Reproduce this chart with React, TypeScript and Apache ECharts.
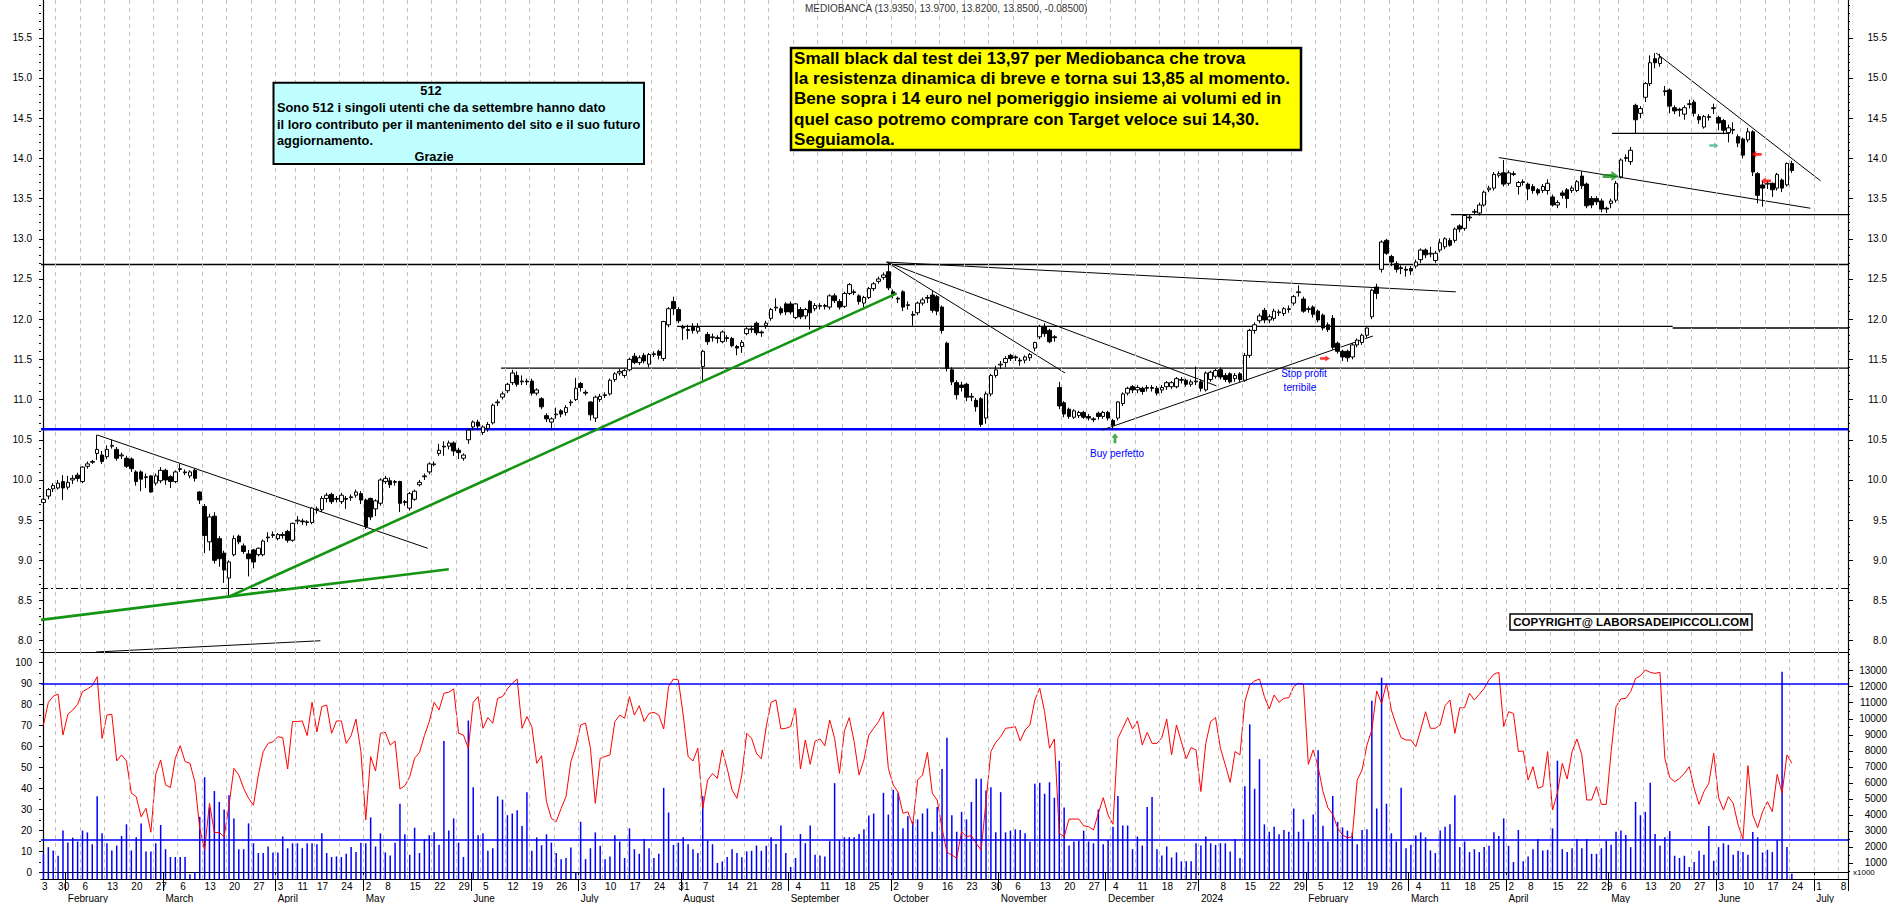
import React, { useEffect, useRef } from 'react';
import * as echarts from 'echarts';

// ---------------- calendar ----------------
const START_DAY = '2023-01-25';
const END_DAY = '2024-07-09';
const HOLIDAYS = ['2023-04-07', '2023-04-10', '2023-05-01', '2023-08-15', '2023-12-25', '2023-12-26', '2024-01-01', '2024-03-29', '2024-04-01', '2024-05-01'];
const MONTH_NAMES = ['January', 'February', 'March', 'April', 'May', 'June', 'July', 'August', 'September', 'October', 'November', 'December'];

// ---------------- price: [open, close, low, high] ----------------
const CANDLES: number[][] = [
  [9.72,9.76,9.66,9.78],[9.80,9.88,9.76,9.90],[9.89,9.93,9.85,9.96],[9.90,9.96,9.88,10.00],[9.98,9.90,9.75,10.06],
  [9.91,9.97,9.88,10.05],[10.00,10.02,9.95,10.06],[10.06,10.02,9.98,10.09],[9.98,10.16,9.96,10.17],[10.17,10.20,10.14,10.23],
  [10.22,10.23,10.20,10.25],[10.33,10.38,10.25,10.56],[10.31,10.23,10.20,10.36],[10.29,10.38,10.26,10.43],[10.42,10.43,10.39,10.50],
  [10.38,10.27,10.24,10.41],[10.30,10.31,10.26,10.34],[10.27,10.17,10.15,10.30],[10.26,10.14,10.10,10.28],[10.10,9.98,9.93,10.12],
  [10.10,10.01,9.86,10.12],[10.03,10.04,9.90,10.08],[10.05,9.85,9.84,10.06],[9.96,10.05,9.93,10.08],[9.99,10.12,9.96,10.16],
  [10.12,10.00,9.94,10.14],[10.04,9.98,9.90,10.06],[9.98,10.10,9.96,10.12],[10.13,10.14,10.10,10.20],[10.10,10.09,10.06,10.13],
  [10.05,10.10,10.02,10.12],[10.12,10.02,9.98,10.14],[9.85,9.75,9.70,9.86],[9.67,9.31,9.09,9.70],[9.23,9.54,9.12,9.58],
  [9.55,9.00,8.96,9.60],[9.27,9.02,8.92,9.30],[9.09,8.88,8.72,9.12],[8.78,8.98,8.55,9.00],[9.07,9.27,9.05,9.31],
  [9.30,9.23,9.20,9.32],[9.18,9.11,9.08,9.21],[9.08,9.02,8.80,9.13],[9.13,8.98,8.90,9.14],[9.07,9.15,9.05,9.16],
  [9.07,9.24,9.05,9.26],[9.28,9.29,9.23,9.35],[9.31,9.32,9.28,9.36],[9.27,9.32,9.25,9.34],[9.32,9.31,9.27,9.35],
  [9.36,9.25,9.22,9.38],[9.25,9.46,9.23,9.47],[9.49,9.50,9.45,9.55],[9.49,9.48,9.44,9.52],[9.47,9.48,9.43,9.50],
  [9.47,9.65,9.45,9.66],[9.64,9.63,9.58,9.67],[9.63,9.77,9.60,9.80],[9.77,9.81,9.72,9.84],[9.82,9.73,9.70,9.84],
  [9.76,9.77,9.72,9.80],[9.73,9.81,9.70,9.84],[9.77,9.76,9.64,9.80],[9.78,9.79,9.74,9.82],[9.81,9.85,9.78,9.88],
  [9.83,9.75,9.70,9.86],[9.75,9.42,9.39,9.77],[9.77,9.54,9.50,9.78],[9.64,9.74,9.55,9.76],[9.71,10.00,9.68,10.02],
  [9.98,10.02,9.95,10.05],[9.99,9.94,9.90,10.03],[9.97,9.98,9.93,10.00],[9.98,9.71,9.60,9.99],[9.73,9.72,9.68,9.75],
  [9.65,9.83,9.62,9.85],[9.76,9.86,9.74,9.88],[9.94,9.97,9.92,10.00],[10.04,10.05,10.00,10.08],[10.10,10.20,10.07,10.22],
  [10.19,10.20,10.17,10.23],[10.33,10.37,10.30,10.45],[10.41,10.42,10.30,10.48],[10.42,10.46,10.38,10.49],[10.46,10.36,10.30,10.48],
  [10.37,10.34,10.26,10.40],[10.27,10.31,10.24,10.33],[10.50,10.62,10.45,10.64],[10.66,10.72,10.62,10.74],[10.72,10.67,10.63,10.75],
  [10.59,10.66,10.56,10.68],[10.64,10.69,10.60,10.72],[10.71,10.93,10.69,10.95],[10.96,10.97,10.92,11.00],[11.03,11.07,11.00,11.10],
  [11.11,11.19,11.08,11.21],[11.21,11.33,11.18,11.37],[11.30,11.19,11.16,11.35],[11.22,11.23,11.18,11.30],[11.23,11.22,11.18,11.26],
  [11.23,11.08,11.05,11.26],[11.08,11.12,11.05,11.14],[11.01,10.91,10.88,11.03],[10.80,10.76,10.72,10.83],[10.72,10.76,10.62,10.78],
  [10.81,10.82,10.76,10.90],[10.86,10.82,10.78,10.88],[10.84,10.90,10.80,10.93],[10.96,10.97,10.92,11.00],[11.00,11.14,10.98,11.27],
  [11.20,11.15,11.10,11.22],[11.09,11.08,11.05,11.12],[10.97,10.81,10.74,10.98],[10.77,11.03,10.72,11.05],[11.00,11.04,10.97,11.07],
  [11.05,11.06,11.02,11.09],[11.07,11.24,11.05,11.26],[11.25,11.32,11.22,11.34],[11.33,11.35,11.30,11.38],[11.30,11.36,11.27,11.38],
  [11.37,11.50,11.35,11.52],[11.54,11.46,11.44,11.58],[11.46,11.52,11.43,11.55],[11.55,11.48,11.45,11.58],[11.44,11.56,11.40,11.58],
  [11.56,11.57,11.53,11.60],[11.60,11.55,11.50,11.62],[11.51,11.97,11.48,11.98],[11.93,12.13,11.90,12.15],[12.22,12.13,12.05,12.28],
  [12.12,11.98,11.95,12.15],[11.90,11.89,11.74,11.93],[11.87,11.86,11.75,11.93],[11.90,11.86,11.82,11.95],[11.85,11.90,11.82,11.95],
  [11.41,11.60,11.24,11.62],[11.81,11.72,11.68,11.84],[11.77,11.78,11.72,11.82],[11.77,11.76,11.70,11.80],[11.72,11.84,11.70,11.86],
  [11.77,11.76,11.72,11.80],[11.76,11.67,11.65,11.78],[11.66,11.64,11.55,11.68],[11.66,11.71,11.58,11.74],[11.82,11.88,11.80,11.90],
  [11.87,11.88,11.83,11.92],[11.95,11.83,11.80,11.97],[11.84,11.83,11.78,11.86],[11.92,11.95,11.88,11.98],[12.01,12.12,11.98,12.14],
  [12.14,12.15,12.10,12.26],[12.13,12.08,12.05,12.16],[12.19,12.09,12.05,12.21],[12.19,12.09,12.06,12.22],[12.02,12.19,12.00,12.20],
  [12.12,12.03,12.00,12.15],[12.04,12.12,12.00,12.14],[12.22,12.08,11.87,12.24],[12.13,12.17,12.10,12.20],[12.16,12.17,12.12,12.20],
  [12.17,12.16,12.12,12.19],[12.15,12.29,12.12,12.31],[12.29,12.23,12.20,12.32],[12.22,12.15,12.12,12.25],[12.16,12.32,12.14,12.34],
  [12.32,12.43,12.30,12.45],[12.34,12.33,12.30,12.37],[12.29,12.22,12.18,12.31],[12.20,12.27,12.15,12.29],[12.27,12.38,12.25,12.40],
  [12.38,12.44,12.35,12.46],[12.47,12.50,12.44,12.53],[12.52,12.55,12.49,12.58],[12.59,12.39,12.36,12.71],[12.34,12.31,12.26,12.37],
  [12.26,12.25,12.20,12.28],[12.34,12.15,12.10,12.36],[12.17,12.18,12.12,12.22],[12.06,12.05,11.92,12.10],[12.08,12.20,12.05,12.22],
  [12.20,12.24,12.17,12.27],[12.26,12.27,12.20,12.30],[12.30,12.11,12.08,12.35],[12.28,12.10,12.05,12.30],[12.15,11.86,11.82,12.17],
  [11.70,11.39,11.35,11.72],[11.37,11.22,11.18,11.40],[11.21,11.06,11.00,11.24],[11.18,11.15,11.10,11.22],[11.19,11.03,10.98,11.21],
  [11.03,11.04,10.98,11.08],[10.99,10.91,10.85,11.02],[11.01,10.69,10.66,11.03],[10.77,11.07,10.70,11.10],[11.07,11.30,11.04,11.32],
  [11.30,11.37,11.27,11.42],[11.43,11.44,11.38,11.48],[11.46,11.51,11.40,11.54],[11.55,11.51,11.48,11.57],[11.53,11.52,11.48,11.55],
  [11.49,11.48,11.42,11.52],[11.49,11.53,11.45,11.55],[11.52,11.56,11.48,11.58],[11.64,11.71,11.60,11.72],[11.78,11.91,11.75,11.93],
  [11.91,11.82,11.78,11.95],[11.86,11.72,11.70,11.88],[11.78,11.77,11.72,11.80],[11.15,10.92,10.88,11.22],[10.96,10.82,10.78,10.98],
  [10.88,10.79,10.76,10.90],[10.78,10.86,10.76,10.88],[10.80,10.84,10.77,10.86],[10.84,10.78,10.76,10.86],[10.79,10.77,10.74,10.82],
  [10.76,10.75,10.72,10.78],[10.83,10.79,10.75,10.85],[10.79,10.84,10.76,10.86],[10.84,10.77,10.74,10.86],[10.74,10.68,10.62,10.76],
  [10.77,10.97,10.74,10.98],[10.95,11.07,10.92,11.09],[11.08,11.14,11.05,11.16],[11.16,11.12,11.08,11.18],[11.12,11.15,11.08,11.18],
  [11.14,11.10,11.06,11.16],[11.14,11.15,11.10,11.18],[11.15,11.14,11.10,11.18],[11.14,11.08,11.05,11.17],[11.12,11.15,11.08,11.18],
  [11.16,11.21,11.12,11.23],[11.16,11.21,11.13,11.23],[11.16,11.26,11.14,11.28],[11.24,11.25,11.20,11.28],[11.24,11.19,11.16,11.26],
  [11.19,11.22,11.16,11.25],[11.22,11.23,11.18,11.41],[11.22,11.14,11.10,11.25],[11.12,11.33,11.10,11.35],[11.25,11.34,11.22,11.36],
  [11.29,11.36,11.26,11.38],[11.37,11.28,11.25,11.40],[11.30,11.25,11.22,11.33],[11.32,11.22,11.20,11.34],[11.26,11.30,11.22,11.33],
  [11.32,11.25,11.22,11.34],[11.24,11.55,11.22,11.58],[11.55,11.86,11.52,11.88],[11.86,11.93,11.82,11.96],[11.98,12.04,11.95,12.07],
  [12.11,11.99,11.95,12.14],[11.99,12.03,11.95,12.06],[12.01,12.10,11.98,12.13],[12.08,12.09,12.04,12.12],[12.07,12.13,12.04,12.15],
  [12.12,12.13,12.08,12.17],[12.20,12.28,12.17,12.30],[12.33,12.34,12.28,12.42],[12.25,12.10,12.08,12.28],[12.12,12.13,12.08,12.16],
  [12.15,12.06,12.02,12.17],[12.10,11.99,11.96,12.12],[12.05,11.89,11.86,12.07],[11.93,11.87,11.84,11.96],[12.01,11.65,11.62,12.05],
  [11.70,11.60,11.57,11.72],[11.60,11.53,11.48,11.62],[11.60,11.52,11.47,11.62],[11.53,11.68,11.50,11.70],[11.68,11.74,11.65,11.76],
  [11.71,11.80,11.68,11.82],[11.80,11.89,11.77,11.90],[12.03,12.36,12.00,12.38],[12.40,12.32,12.25,12.44],[12.62,12.96,12.58,12.98],
  [12.98,12.82,12.80,13.00],[12.78,12.71,12.66,12.80],[12.69,12.62,12.58,12.72],[12.64,12.63,12.56,12.67],[12.62,12.61,12.53,12.66],
  [12.63,12.60,12.55,12.66],[12.66,12.71,12.63,12.74],[12.74,12.86,12.70,12.88],[12.86,12.80,12.76,12.88],[12.81,12.82,12.77,12.90],
  [12.73,12.82,12.70,12.85],[12.86,12.95,12.83,13.00],[12.90,13.00,12.87,13.02],[12.98,12.92,12.90,13.01],[12.98,13.12,12.95,13.14],
  [13.16,13.12,13.08,13.18],[13.13,13.29,13.10,13.30],[13.27,13.26,13.22,13.30],[13.33,13.34,13.30,13.37],[13.32,13.42,13.29,13.45],
  [13.42,13.58,13.40,13.60],[13.61,13.63,13.58,13.66],[13.63,13.80,13.60,13.83],[13.79,13.81,13.76,13.84],[13.82,13.68,13.65,13.98],
  [13.69,13.82,13.66,13.85],[13.80,13.81,13.78,13.84],[13.65,13.70,13.55,13.72],[13.70,13.71,13.66,13.74],[13.68,13.62,13.48,13.70],
  [13.65,13.60,13.56,13.68],[13.61,13.57,13.54,13.63],[13.60,13.65,13.57,13.68],[13.60,13.69,13.55,13.74],[13.52,13.42,13.40,13.55],
  [13.42,13.45,13.38,13.48],[13.57,13.54,13.50,13.60],[13.61,13.50,13.38,13.63],[13.60,13.63,13.57,13.66],[13.60,13.71,13.58,13.73],
  [13.78,13.66,13.62,13.84],[13.68,13.41,13.38,13.70],[13.50,13.42,13.38,13.53],[13.50,13.46,13.42,13.53],[13.47,13.37,13.33,13.50],
  [13.38,13.37,13.32,13.40],[13.44,13.47,13.38,13.50],[13.48,13.69,13.45,13.72],[13.77,13.98,13.75,14.00],[14.00,14.01,13.96,14.05],
  [13.96,14.10,13.92,14.14],[14.66,14.48,14.31,14.68],[14.56,14.62,14.50,14.65],[14.76,14.93,14.70,14.95],[14.93,15.19,14.90,15.28],
  [15.24,15.19,15.12,15.31],[15.18,15.25,15.14,15.30],[14.84,14.83,14.78,14.90],[14.85,14.65,14.56,14.87],[14.63,14.59,14.55,14.66],
  [14.61,14.60,14.52,14.63],[14.55,14.63,14.48,14.66],[14.67,14.68,14.62,14.73],[14.70,14.56,14.52,14.73],[14.52,14.48,14.43,14.55],
  [14.39,14.52,14.37,14.54],[14.51,14.52,14.47,14.55],[14.62,14.63,14.55,14.68],[14.51,14.44,14.35,14.53],[14.47,14.35,14.30,14.49],
  [14.32,14.38,14.20,14.42],[14.35,14.36,14.30,14.45],[14.27,14.19,14.14,14.30],[14.24,14.04,14.00,14.26],[14.23,14.33,14.20,14.38],
  [14.33,13.83,13.78,14.35],[13.81,13.54,13.44,13.83],[13.67,13.63,13.40,13.72],[13.68,13.69,13.62,13.72],[13.69,13.61,13.52,13.70],
  [13.63,13.80,13.60,13.82],[13.73,13.63,13.58,13.75],[13.67,13.935,13.65,13.95],[13.935,13.85,13.82,13.97]
];

// ---------------- lower pane ----------------
const OSCILLATOR: number[] = [
  70.3,81,84,85,65.5,75.4,77.4,80.1,86.2,87.5, 89,93.3,63.9,75,75.4,53.1,56,53.1,37.7,36.1,
  26.5,30.5,19.1,46.8,53.6,41.7,40.4,54.4,60.4,52.8, 52,43.2,21,10.6,32.9,19,19,17,32,49.6,
  46.4,40,35.3,32,46.4,57.6,61.5,62.3,64.7,64.2, 49.3,71.9,71.9,72.2,65.2,81.1,67,79,79.8,66.3,
  72.2,72.2,61.5,65.2,73.1,57.6,25,55.2,48.3,66.3, 66.8,60.7,62.6,39.7,41.3,45.6,54.4,57.2,65.2,71.9,
  81.1,77.4,85.4,85.9,87.5,66.3,65.5,59.2,81.1,83.8, 68.7,73.8,71.1,83,83.8,87.5,90.2,92.2,68.7,74.3,
  69.5,52,55.6,33.7,25.7,24.2,30.5,36.1,52.8,59.9, 70.3,71.1,59.2,32.9,54.4,55.2,56,71.9,75,73.5,
  83.8,75,79.5,71.9,75.8,76.3,75,68.4,88.6,92.2, 91.8,75,55.2,53.1,59.2,30.5,44,47.2,44.8,58.4,
  49.6,39.3,35.3,46.4,66.3,63.9,56.8,54.1,69.5,81.1, 82.2,68.4,68.7,69.5,78.2,49.3,63.1,51.5,62.6,63.6,
  60.4,72.7,63.9,47.2,67.4,73.8,62.3,46.4,53.6,65.5, 68.7,71.9,76.6,49.6,41.7,38.2,28.1,28.9,22.6,44,
  46.4,57.2,37.7,34.5,21,9.5,8.3,6.7,19.4,17, 17.5,13.8,10.6,33.7,57.6,62,64.7,68.7,69,69.5,
  62.6,67.9,70.3,82.2,87.8,76.6,59.2,63.6,18.6,17, 25.4,25.4,25.4,22.2,21.8,20.2,28.1,35.6,27.3,22.9,
  63.9,68.7,73.8,68.4,72.2,60.7,66.8,61.5,61.5,64.2, 73.1,56,70.3,62.3,54.1,59.5,58.4,38.5,61.5,71.9,
  73.8,59.2,51.2,42.9,57.6,56,81.4,89.4,91.3,
  92.2,83.8,77.9,84.6,81.1,83,83.3,88.6,90.2,89.7, 51.5,58.4,50.4,38.5,30.8,27.7,21,17.8,16.5,17,
  44,48.8,60.7,67.9,86.5,80.6,90.2,77.4,70.3,64.2, 63.1,63.1,59.9,67.9,76.6,68.7,68.7,70.3,79.5,82.2,
  66.3,78.5,78.5,85.4,82.2,84.9,87.8,91.8,94.5,95.4, 69.5,76.6,75.8,57.6,57.9,44,50.4,40.1,40.9,57.6,
  29.7,37.7,52,44.5,57.6,63.6,56,34.5,34.5,40.9, 32.4,32.4,57.6,79,82.7,83,86.2,92.5,93.8,96.5,
  95.4,94.9,95.4,54.4,45.2,43.2,44.8,47.2,50.4,40.1, 32.4,38.5,42.4,56.8,35.6,29.7,36.1,32.9,22.6,15.9,
  50.9,27.3,21.3,28.9,33.7,28.9,46.7,37.7,56,52
];

const VOLUME: number[] = [
  1570,1990,1780,1450,3020,2280,2580,2340,3020,2910, 2170,5160,2850,2230,1780,2090,2690,3410,1780,2600,
  3470,1720,1720,2230,3370,1860,1370,1370,1370,1370, 300,440,3880,6350,4460,5490,4810,4330,5220,3780,
  1860,1860,3470,2230,1620,1620,2030,1660,1660,2650, 1920,2230,2230,1920,2230,2230,2170,2850,1620,1370,
  1410,1370,1570,1990,1680,2270,2230,3840,2030,2850, 1660,1470,2270,4700,2790,1510,3200,1620,2480,2730,
  2910,2130,8620,3020,3780,2270,1370,9890,5730,2730, 2850,1760,1920,5160,4950,3980,4090,4290,3300,5420,
  1760,2600,2110,2790,2270,1620,1240,1310,1970,400, 3570,1240,1920,2910,2070,1240,1410,2730,2340,1310,
  3160,1860,1570,2500,1920,1310,1570,5690,4150,2130, 2270,2600,2170,1860,1620,5160,2400,2170,1000,1100,
  1370,1860,1620,1350,1720,1760,2090,1760,2070,2600, 2190,3340,1620,750,1310,2810,2230,3340,1510,1470,
  1410,2360,5980,2440,2600,2600,2600,2810,3100,3960, 4090,2400,5380,4020,5570,5380,3160,3920,3570,3720,
  4090,4400,2950,4500,6870,8820,3980,2950,4190,3720, 4810,6250,6250,5530,5730,2910,5420,2910,3020,3100,
  3060,2850,2340,5940,6000,5320,6040,5070,7380,4460, 2090,2340,2380,3020,2340,2230,4330,2170,2440,3260,
  5180,3340,3340,1860,2650,2090,4500,5120,1860,1470, 2030,1350,1660,1100,1100,1100,2230,2090,2650,2230,
  2130,2230,2230,1720,2500,1310,5790,9650,5630,
  7480,3410,2950,3260,2790,3060,2950,4400,2950,3720, 2340,4020,8040,3320,2340,5180,3570,3220,3020,2890,
  2170,3060,3100,11130,4400,12570,4700,2850,2340,5690, 1920,2130,2710,2910,2600,1780,1620,3020,3260,3410,
  5220,1990,2340,1680,1860,1680,1990,2070,2910,2690, 3780,2070,1060,3060,1100,1410,1860,2500,1780,1820,
  3160,7380,1860,1680,1920,2500,1920,2500,1570,1570, 1920,2380,2130,2950,3020,2750,1990,4810,3980,4190,
  6000,2810,2090,2600,2990,1450,1310,1450,750,1060, 1760,1510,3300,1140,1990,2230,2130,1510,1760,1680,
  1510,2930,2600,1660,1820,1680,2440,12940,1990,320
];

// ---------------- axis tick values ----------------
const PRICE_TICKS = [8.0, 8.5, 9.0, 9.5, 10.0, 10.5, 11.0, 11.5, 12.0, 12.5, 13.0, 13.5, 14.0, 14.5, 15.0, 15.5];
const OSC_TICKS = [0, 10, 20, 30, 40, 50, 60, 70, 80, 90, 100];
const VOL_TICKS = [1000, 2000, 3000, 4000, 5000, 6000, 7000, 8000, 9000, 10000, 11000, 12000, 13000];
const OSC_BANDS = [90, 15.3];

// ---------------- drawn studies (day index, price) ----------------
const LEVELS_BLACK = [[-0.5, 369.5, 12.68], [93.7, 369.5, 11.39], [129.7, 333.6, 11.91], [333.6, 369.5, 11.89], [288.2, 369.5, 13.30], [321.2, 345.3, 14.31]];
const LEVEL_BLUE = [[-0.5, 369.5, 10.63]];
const LEVEL_DASHDOT = [[-0.5, 369.5, 8.65]];
const TRENDS_BLACK = [
  [10.99, 10.56, 78.7, 9.15], [10.74, 7.86, 56.7, 8.0], [172.65, 12.71, 209.2, 11.33], [172.65, 12.71, 240.2, 11.17],
  [172.65, 12.71, 289.2, 12.34], [216.7, 10.62, 272.2, 11.79], [298.0, 14.01, 361.8, 13.38], [330.2, 15.31, 363.9, 13.72]
];
const TRENDS_GREEN = [[-0.5, 8.26, 83.0, 8.89], [37.65, 8.54, 174.7, 12.32]];
const ARROW_UP_GREEN = [[219.4, 10.52]];
const ARROW_RIGHT_GREEN = [[320.9, 13.78]];
const ARROW_RIGHT_TEAL = [[342.0, 14.16]];
const ARROW_RIGHT_RED = [[262.4, 11.51]];
const ARROW_LEFT_RED = [[350.8, 14.05], [352.7, 13.72]];

const YELLOW_NOTE = [
  'Small black dal test dei 13,97 per Mediobanca che trova',
  'la resistenza dinamica di breve e torna sui 13,85 al momento.',
  'Bene sopra i 14 euro nel pomeriggio insieme ai volumi ed in',
  'quel caso potremo comprare con Target veloce sui 14,30.',
  'Seguiamola.'
];
const CYAN_NOTE = [
  'Sono 512 i singoli utenti che da settembre hanno dato',
  'il loro contributo per il mantenimento del sito e il suo futuro',
  'aggiornamento.'
];

function tradingDays(): string[] {
  const hol = new Set(HOLIDAYS);
  const out: string[] = [];
  let t = Date.parse(START_DAY + 'T00:00:00Z');
  const end = Date.parse(END_DAY + 'T00:00:00Z');
  while (t <= end) {
    const d = new Date(t);
    const dow = d.getUTCDay();
    const s = d.toISOString().slice(0, 10);
    if (dow !== 0 && dow !== 6 && !hol.has(s)) out.push(s);
    t += 86400000;
  }
  return out;
}

const FONT = 'Liberation Sans';
const RIGHT_ARROW = 'path://M0,3L6,3L6,0L11,5L6,10L6,7L0,7Z';
const LEFT_ARROW = 'path://M11,3L5,3L5,0L0,5L5,10L5,7L11,7Z';
const UP_ARROW = 'path://M3,11L3,5L0,5L5,0L10,5L7,5L7,11Z';

function buildOption() {
  const days = tradingDays();
  const dow = days.map((s) => new Date(s + 'T00:00:00Z').getUTCDay());
  const mon = days.map((s) => parseInt(s.slice(5, 7), 10) - 1);
  const weekStart = days.map((_, i) => i > 0 && dow[i] <= dow[i - 1]);
  const monthStart = days.map((_, i) => i > 0 && mon[i] !== mon[i - 1]);
  const dayLabel = days.map((_, i) => weekStart[i] && !(monthStart[i] && mon[i] === 0));
  const weekIdx = days.map((_, i) => i).filter((i) => weekStart[i]);

  const pMin = 7.86, pMax = 15.97;
  const oMin = -3.2, oMax = 105.1;
  const vMax = 14167;
  const n = days.length;

  const minorPrice: number[] = [];
  for (let k = 79; k <= 159; k++) minorPrice.push(k / 10);
  const minorOsc: number[] = [];
  for (let k = 0; k <= 100; k += 5) minorOsc.push(k);
  const minorVol: number[] = [];
  for (let k = 500; k <= 14000; k += 500) minorVol.push(k);

  const axisLbl = { fontFamily: FONT, fontSize: 10, color: '#000' };
  const blackAxis = { show: true, lineStyle: { color: '#000', width: 1.2 } };
  const gridMark = {
    silent: true, symbol: ['none', 'none'], label: { show: false }, animation: false,
    lineStyle: { color: '#c2c2c2', type: [4, 4], width: 1 },
    data: weekIdx.map((i) => ({ xAxis: i - 0.5 }))
  };

  const last = CANDLES[CANDLES.length - 1];
  const prev = CANDLES[CANDLES.length - 2];
  const title = `MEDIOBANCA (${last[0].toFixed(4)}, ${last[3].toFixed(4)}, ${last[2].toFixed(4)}, ${last[1].toFixed(4)}, ${(last[1] - prev[1]).toFixed(5)})`;

  const series: any[] = [];
  // weekly dashed grid lines (both panes)
  series.push({ type: 'scatter', xAxisIndex: 3, yAxisIndex: 0, data: [[-5, 0]], symbolSize: 0, silent: true, z: 0, markLine: gridMark });
  series.push({ type: 'scatter', xAxisIndex: 4, yAxisIndex: 4, data: [[-5, -50]], symbolSize: 0, silent: true, z: 0, markLine: gridMark });

  series.push({
    type: 'candlestick', xAxisIndex: 0, yAxisIndex: 0, data: CANDLES, barWidth: 4, z: 5,
    itemStyle: { color: '#ffffff', color0: '#000000', borderColor: '#000000', borderColor0: '#000000', borderWidth: 1 }
  });
  const seg = (pts: number[][], style: any, z = 4) => ({
    type: 'line', xAxisIndex: 3, yAxisIndex: 0, data: pts, symbol: 'none', silent: true, z,
    lineStyle: style, animation: false
  });
  LEVELS_BLACK.forEach((l) => series.push(seg([[l[0], l[2]], [l[1], l[2]]], { color: '#000', width: 1.3 })));
  LEVEL_BLUE.forEach((l) => series.push(seg([[l[0], l[2]], [l[1], l[2]]], { color: '#0000ff', width: 2.6 })));
  LEVEL_DASHDOT.forEach((l) => series.push(seg([[l[0], l[2]], [l[1], l[2]]], { color: '#000', width: 1.2, type: [7, 3, 2, 3] })));
  TRENDS_BLACK.forEach((t) => series.push(seg([[t[0], t[1]], [t[2], t[3]]], { color: '#000', width: 1 })));
  TRENDS_GREEN.forEach((t) => series.push(seg([[t[0], t[1]], [t[2], t[3]]], { color: '#139413', width: 2.6 }, 6)));
  const arrow = (pts: number[][], sym: string, size: number[], color: string) => ({
    type: 'scatter', xAxisIndex: 3, yAxisIndex: 0, data: pts, symbol: sym, symbolSize: size, silent: true, z: 8,
    itemStyle: { color, borderColor: color, borderWidth: 0 }
  });
  series.push(arrow(ARROW_UP_GREEN, UP_ARROW, [7, 10], '#1a9a1a'));
  series.push(arrow(ARROW_RIGHT_GREEN, RIGHT_ARROW, [16, 10], '#159015'));
  series.push(arrow(ARROW_RIGHT_TEAL, RIGHT_ARROW, [9, 6], '#3db38e'));
  series.push(arrow(ARROW_RIGHT_RED, RIGHT_ARROW, [10, 6], '#ff0000'));
  series.push(arrow(ARROW_LEFT_RED, LEFT_ARROW, [10, 7], '#ff0000'));

  series.push({
    type: 'bar', xAxisIndex: 1, yAxisIndex: 5, data: VOLUME, barWidth: 1.5, z: 2, silent: true,
    itemStyle: { color: '#0000ff' }
  });
  series.push({
    type: 'line', xAxisIndex: 1, yAxisIndex: 4, data: OSCILLATOR, symbol: 'none', z: 4, silent: true,
    lineStyle: { color: '#ff0000', width: 1 },
    markLine: {
      silent: true, symbol: ['none', 'none'], label: { show: false }, animation: false,
      lineStyle: { color: '#0000ff', width: 1.5, type: 'solid' },
      data: OSC_BANDS.map((b) => ({ yAxis: b }))
    }
  });

  const txt = (x: number, y: number, text: string, size: number, weight: string, fill: string, align = 'left') => ({
    type: 'text', x, y, z: 100, silent: true,
    style: { text, fontSize: size, fontWeight: weight, fontFamily: FONT, fill, align, textAlign: align, verticalAlign: 'middle', textVerticalAlign: 'middle' }
  });

  const graphic: any[] = [
    txt(805, 8, title, 10, 'normal', '#333'),
    { type: 'rect', z: 90, silent: true, shape: { x: 273.5, y: 82.7, width: 370.5, height: 81.3 }, style: { fill: '#c0ffff', stroke: '#000', lineWidth: 2 } },
    txt(431, 90, '512', 12.8, 'bold', '#000', 'center'),
    ...CYAN_NOTE.map((s, k) => txt(277, 107.7 + k * 16.5, s, 12.8, 'bold', '#000')),
    txt(434, 156, 'Grazie', 12.8, 'bold', '#000', 'center'),
    { type: 'rect', z: 90, silent: true, shape: { x: 791, y: 48, width: 510, height: 102 }, style: { fill: '#ffff00', stroke: '#000', lineWidth: 2.5 } },
    ...YELLOW_NOTE.map((s, k) => txt(794, 58 + k * 20.4, s, 17.1, 'bold', '#000')),
    { type: 'rect', z: 90, silent: true, shape: { x: 1510, y: 614, width: 242, height: 16 }, style: { fill: '#fff', stroke: '#000', lineWidth: 1.5 } },
    txt(1631, 622, 'COPYRIGHT@ LABORSADEIPICCOLI.COM', 11.5, 'bold', '#000', 'center'),
    txt(1117, 453, 'Buy perfetto', 10, 'normal', '#0000ff', 'center'),
    txt(1304, 373, 'Stop profit', 10, 'normal', '#0000ff', 'center'),
    txt(1300, 387, 'terribile', 10, 'normal', '#0000ff', 'center'),
    txt(42, 886, '3', 10, 'normal', '#000'),
    txt(1853, 872, 'x1000', 8, 'normal', '#000')
  ];

  return {
    animation: false,
    backgroundColor: '#ffffff',
    textStyle: { fontFamily: FONT },
    grid: [
      { left: 41, top: 0, width: 1807, height: 652 },
      { left: 41, top: 652, width: 1807, height: 227 }
    ],
    xAxis: [
      {
        type: 'category', gridIndex: 0, data: days, boundaryGap: true,
        axisLine: blackAxis, axisTick: { show: false }, axisLabel: { show: false }, splitLine: { show: false }
      },
      {
        type: 'category', gridIndex: 1, data: days, boundaryGap: true, position: 'bottom',
        axisLine: blackAxis,
        axisTick: { show: true, interval: (i: number) => monthStart[i], length: 13, lineStyle: { color: '#000', width: 1 } },
        axisLabel: {
          ...axisLbl, interval: (i: number) => dayLabel[i], align: 'left', margin: 2, hideOverlap: false,
          formatter: (v: string) => String(parseInt(v.slice(8, 10), 10))
        },
        splitLine: { show: false }
      },
      {
        type: 'category', gridIndex: 1, data: days, boundaryGap: true, position: 'bottom', offset: 13,
        axisLine: blackAxis,
        axisTick: { show: true, interval: (i: number) => monthStart[i], length: 12, lineStyle: { color: '#000', width: 1 } },
        axisLabel: {
          ...axisLbl, interval: (i: number) => monthStart[i], align: 'left', margin: 1, hideOverlap: false,
          formatter: (v: string) => { const m = parseInt(v.slice(5, 7), 10) - 1; return m === 0 ? v.slice(0, 4) : MONTH_NAMES[m]; }
        },
        splitLine: { show: false }
      },
      { type: 'value', gridIndex: 0, min: -0.5, max: n - 0.5, show: false },
      { type: 'value', gridIndex: 1, min: -0.5, max: n - 0.5, show: false }
    ],
    yAxis: [
      {
        type: 'value', gridIndex: 0, position: 'left', min: pMin, max: pMax, axisLine: blackAxis, splitLine: { show: false },
        axisTick: { show: true, customValues: PRICE_TICKS, length: 4, lineStyle: { color: '#000' } },
        axisLabel: { ...axisLbl, customValues: PRICE_TICKS, margin: 9, formatter: (v: number) => v.toFixed(1) }
      },
      {
        type: 'value', gridIndex: 0, position: 'right', min: pMin, max: pMax, axisLine: blackAxis, splitLine: { show: false },
        axisTick: { show: true, customValues: PRICE_TICKS, length: 5, lineStyle: { color: '#000' } },
        axisLabel: { ...axisLbl, customValues: PRICE_TICKS, margin: 39, align: 'right', formatter: (v: number) => v.toFixed(1) }
      },
      {
        type: 'value', gridIndex: 0, position: 'left', min: pMin, max: pMax, axisLine: { show: false }, splitLine: { show: false },
        axisTick: { show: true, customValues: minorPrice, length: 2, lineStyle: { color: '#000' } }, axisLabel: { show: false }
      },
      {
        type: 'value', gridIndex: 0, position: 'right', min: pMin, max: pMax, axisLine: { show: false }, splitLine: { show: false },
        axisTick: { show: true, customValues: minorPrice, length: 2, lineStyle: { color: '#000' } }, axisLabel: { show: false }
      },
      {
        type: 'value', gridIndex: 1, position: 'left', min: oMin, max: oMax, axisLine: blackAxis, splitLine: { show: false },
        axisTick: { show: true, customValues: OSC_TICKS, length: 4, lineStyle: { color: '#000' } },
        axisLabel: { ...axisLbl, customValues: OSC_TICKS, margin: 9 }
      },
      {
        type: 'value', gridIndex: 1, position: 'right', min: 0, max: vMax, axisLine: blackAxis, splitLine: { show: false },
        axisTick: { show: true, customValues: VOL_TICKS, length: 5, lineStyle: { color: '#000' } },
        axisLabel: { ...axisLbl, customValues: VOL_TICKS, margin: 39, align: 'right', formatter: (v: number) => String(v) }
      },
      {
        type: 'value', gridIndex: 1, position: 'left', min: oMin, max: oMax, axisLine: { show: false }, splitLine: { show: false },
        axisTick: { show: true, customValues: minorOsc, length: 2, lineStyle: { color: '#000' } }, axisLabel: { show: false }
      },
      {
        type: 'value', gridIndex: 1, position: 'right', min: 0, max: vMax, axisLine: { show: false }, splitLine: { show: false },
        axisTick: { show: true, customValues: minorVol, length: 2, lineStyle: { color: '#000' } }, axisLabel: { show: false }
      }
    ],
    series,
    graphic
  };
}

export default function App() {
  const ref = useRef<HTMLDivElement>(null);
  useEffect(() => {
    document.body.style.margin = '0';
    if (!ref.current) return;
    const chart = echarts.init(ref.current, undefined, { renderer: 'svg' });
    chart.setOption(buildOption() as any);
    return () => chart.dispose();
  }, []);
  return <div ref={ref} style={{ position: 'absolute', left: 0, top: 0, width: 1890, height: 903 }} />;
}
